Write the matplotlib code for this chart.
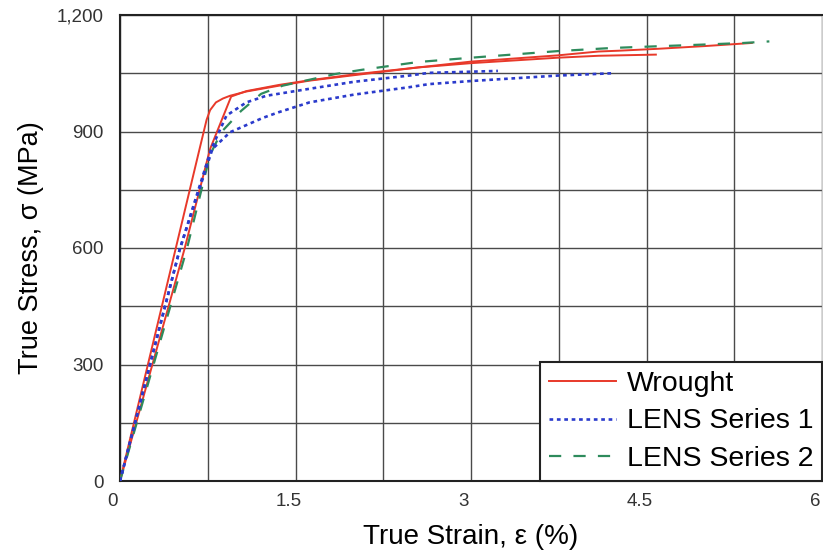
import matplotlib
matplotlib.use('Agg')
import matplotlib.pyplot as plt
import matplotlib.transforms as mtransforms
from matplotlib.ticker import MultipleLocator, FixedLocator

plt.rcParams['font.family'] = ['Liberation Sans', 'DejaVu Sans']

# 真应变 (%) / 真应力 (MPa)
wrought_1_strain = [0, 0.68, 0.74, 0.77, 0.82, 0.88, 0.94, 1.08, 1.36, 1.62, 2.0, 2.55, 3.0, 3.74, 4.09, 4.58]
wrought_1_stress = [0, 855, 930, 955, 975, 985, 992, 1003, 1018, 1031, 1045, 1065, 1076, 1090, 1095, 1098]

wrought_2_strain = [0, 0.55, 0.77, 0.85, 0.95, 1.08, 1.36, 1.62, 2.0, 2.24, 2.64, 3.0, 3.74, 4.09, 4.26, 4.6, 5.0, 5.40]
wrought_2_stress = [0, 596, 855, 915, 990, 1004, 1020, 1032, 1047, 1055, 1068, 1080, 1096, 1106, 1108, 1113, 1120, 1128]

lens1_a_strain = [0, 0.51, 0.78, 0.91, 1.08, 1.25, 1.62, 2.0, 2.47, 2.64, 3.0, 3.23]
lens1_a_stress = [0, 596, 855, 941, 975, 992, 1010, 1028, 1044, 1051, 1054, 1056]

lens1_b_strain = [0, 0.51, 0.79, 0.94, 1.22, 1.36, 1.62, 2.0, 2.47, 2.64, 3.0, 3.74, 4.21]
lens1_b_stress = [0, 596, 855, 898, 935, 950, 975, 995, 1014, 1022, 1030, 1044, 1050]

lens2_strain = [0, 0.57, 0.77, 0.865, 1.035, 1.206, 1.39, 1.84, 2.07, 2.55, 3.0, 3.74, 4.2, 4.37, 5.0, 5.33, 5.55]
lens2_stress = [0, 596, 840, 898, 953, 997, 1018, 1048, 1059, 1079, 1090, 1107, 1115, 1117, 1124, 1128, 1132]

x_ticks = [0, 1.5, 3, 4.5, 6]
x_tick_labels = ['0', '1.5', '3', '4.5', '6']
y_ticks = [0, 300, 600, 900, 1200]
y_tick_labels = ['0', '300', '600', '900', '1,200']

red = '#e8392a'
blue = '#2b3bcc'
green = '#2e8b5c'

fig = plt.figure(figsize=(8.23, 5.6), dpi=100)
ax = fig.add_axes([120 / 823, 79 / 560, 702 / 823, 466 / 560])

ax.plot(wrought_1_strain, wrought_1_stress, color=red, lw=1.4, label='Wrought', zorder=3)
ax.plot(wrought_2_strain, wrought_2_stress, color=red, lw=1.4, zorder=3)
ax.plot(lens1_a_strain, lens1_a_stress, color=blue, lw=1.9, ls=(0, (1.4, 1.4)),
        label='LENS Series 1', zorder=4)
ax.plot(lens1_b_strain, lens1_b_stress, color=blue, lw=1.9, ls=(0, (1.4, 1.4)), zorder=4)
ax.plot(lens2_strain, lens2_stress, color=green, lw=1.6, ls=(0, (5.5, 5.5)),
        label='LENS Series 2', zorder=3)

ax.set_xlim(0, 6)
ax.set_ylim(0, 1200)
ax.xaxis.set_major_locator(FixedLocator(x_ticks))
ax.set_xticklabels(x_tick_labels)
ax.yaxis.set_major_locator(FixedLocator(y_ticks))
ax.set_yticklabels(y_tick_labels)
ax.xaxis.set_minor_locator(MultipleLocator(0.75))
ax.yaxis.set_minor_locator(MultipleLocator(150))
ax.grid(True, which='both', color='#4a4a4a', lw=1.0)
ax.set_axisbelow(True)
ax.tick_params(which='both', length=0)
ax.tick_params(axis='x', labelsize=13.5, labelcolor='#333333', pad=9)
ax.tick_params(axis='y', labelsize=13.5, labelcolor='#333333', pad=12)

# x 刻度标签整体略微左移
shift = mtransforms.ScaledTranslation(-7 / 100, 0, fig.dpi_scale_trans)
for lab in ax.get_xticklabels():
    lab.set_transform(lab.get_transform() + shift)

for side in ['left', 'bottom', 'top']:
    ax.spines[side].set_linewidth(1.5)
    ax.spines[side].set_color('#222222')
ax.spines['right'].set_color('#cccccc')
ax.spines['right'].set_linewidth(0.8)

ax.set_xlabel('True Strain, ε (%)', fontsize=20)
ax.set_ylabel('True Stress, σ (MPa)', fontsize=19.5)
ax.xaxis.set_label_coords(0.5, -0.092)
ax.yaxis.set_label_coords(-0.108, 0.5)

leg = ax.legend(loc='lower right', bbox_to_anchor=(1.0, 0.0), borderaxespad=0,
                fontsize=20.5, frameon=True, fancybox=False, handlelength=2.35,
                handletextpad=0.39, labelspacing=0.42, borderpad=0.3)
leg.get_frame().set_edgecolor('#222222')
leg.get_frame().set_linewidth(1.5)
leg.get_frame().set_alpha(1)

fig.savefig('out.png', dpi=100)
